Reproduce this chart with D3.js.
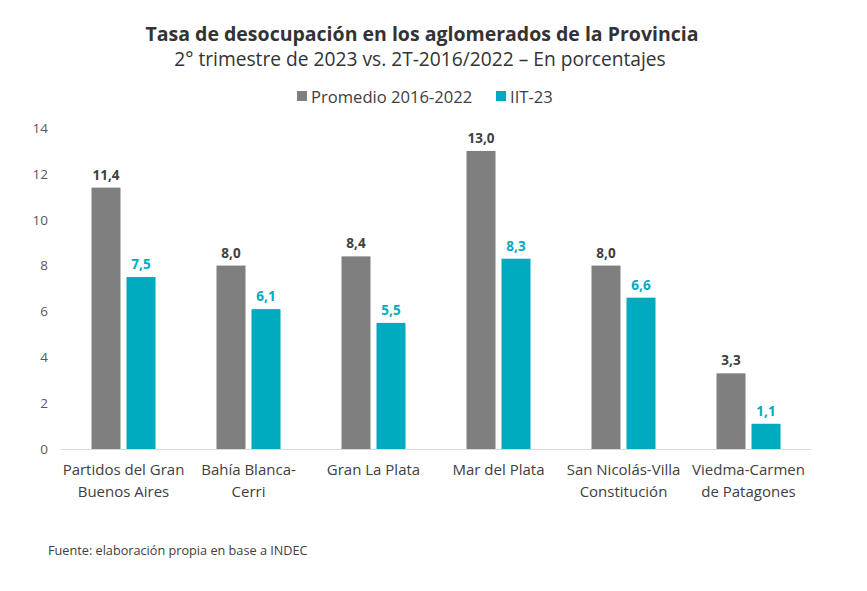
<!DOCTYPE html>
<html>
<head>
<meta charset="utf-8">
<script src="https://cdn.jsdelivr.net/npm/d3@7"></script>
<style>
  body { margin: 0; background: #fff; }
  text { font-family: "Open Sans", "Noto Sans", sans-serif; }
</style>
</head>
<body>
<div id="chart"></div>
<script>
var categories = [
  ["Partidos del Gran", "Buenos Aires"],
  ["Bahía Blanca-", "Cerri"],
  ["Gran La Plata"],
  ["Mar del Plata"],
  ["San Nicolás-Villa", "Constitución"],
  ["Viedma-Carmen", "de Patagones"]
];
var promedio = [11.4, 8.0, 8.4, 13.0, 8.0, 3.3];
var iit23 = [7.5, 6.1, 5.5, 8.3, 6.6, 1.1];
var seriesNames = ["Promedio 2016-2022", "IIT-23"];
var yTicks = [0, 2, 4, 6, 8, 10, 12, 14];

var w = 867, h = 591;
var gray = "#7f7f7f", teal = "#00abc0";

var svg = d3.select("#chart").append("svg")
  .attr("width", w)
  .attr("height", h);

// titles
svg.append("text")
  .attr("x", 422).attr("y", 41)
  .attr("text-anchor", "middle")
  .attr("font-size", 19.5).attr("font-weight", "bold")
  .attr("fill", "#333")
  .text("Tasa de desocupación en los aglomerados de la Provincia");
svg.append("text")
  .attr("x", 420).attr("y", 66)
  .attr("text-anchor", "middle")
  .attr("font-size", 19.2)
  .attr("fill", "#333")
  .text("2° trimestre de 2023 vs. 2T-2016/2022 – En porcentajes");

// legend
var legend = svg.append("g");
var legX = [297, 496];
seriesNames.forEach(function(name, i){
  legend.append("rect")
    .attr("x", legX[i]).attr("y", 91)
    .attr("width", 10).attr("height", 10)
    .attr("fill", i == 0 ? gray : teal);
  legend.append("text")
    .attr("x", legX[i] + 14).attr("y", 103)
    .attr("font-size", 16.6)
    .attr("fill", "#404040")
    .text(name);
});

var x = d3.scaleBand()
  .domain(d3.range(categories.length))
  .range([61, 811]);
var y = d3.scaleLinear()
  .domain([0, 14])
  .range([449, 128]);

// y axis labels
var yAxis = svg.append("g")
  .attr("transform", "translate(48,0)")
  .call(d3.axisLeft(y).tickValues(yTicks).tickSize(0).tickPadding(0));
yAxis.select(".domain").remove();
yAxis.selectAll("text")
  .attr("font-size", 13.5)
  .attr("fill", "#595959")
  .style("font-family", "\"Open Sans\", sans-serif");

// baseline
svg.append("line")
  .attr("x1", 61).attr("x2", 811)
  .attr("y1", y(0) + 0.5).attr("y2", y(0) + 0.5)
  .attr("stroke", "#d9d9d9");

var barW = 29, gap = 6;
var fmt = function(v){ return v.toFixed(1).replace(".", ","); };

var groups = svg.append("g")
  .selectAll("g")
  .data(categories)
  .enter()
  .append("g");

groups.each(function(d, i){
  var g = d3.select(this);
  var cx = x(i) + x.bandwidth() / 2;
  var vals = [promedio[i], iit23[i]];
  vals.forEach(function(v, k){
    var bx = k == 0 ? cx - gap / 2 - barW : cx + gap / 2;
    g.append("rect")
      .attr("x", bx).attr("y", y(v))
      .attr("width", barW).attr("height", y(0) - y(v))
      .attr("fill", k == 0 ? gray : teal);
    g.append("text")
      .attr("x", bx + barW / 2).attr("y", y(v) - 8)
      .attr("text-anchor", "middle")
      .attr("font-size", 13.5).attr("font-weight", "bold")
      .attr("fill", k == 0 ? "#404040" : teal)
      .text(fmt(v));
  });
  d.forEach(function(line, j){
    g.append("text")
      .attr("x", cx).attr("y", 475 + j * 22)
      .attr("text-anchor", "middle")
      .attr("font-size", 15)
      .attr("fill", "#404040")
      .text(line);
  });
});

// footer
svg.append("text")
  .attr("x", 48).attr("y", 555)
  .attr("font-size", 12.7)
  .attr("fill", "#404040")
  .text("Fuente: elaboración propia en base a INDEC");
</script>
</body>
</html>
